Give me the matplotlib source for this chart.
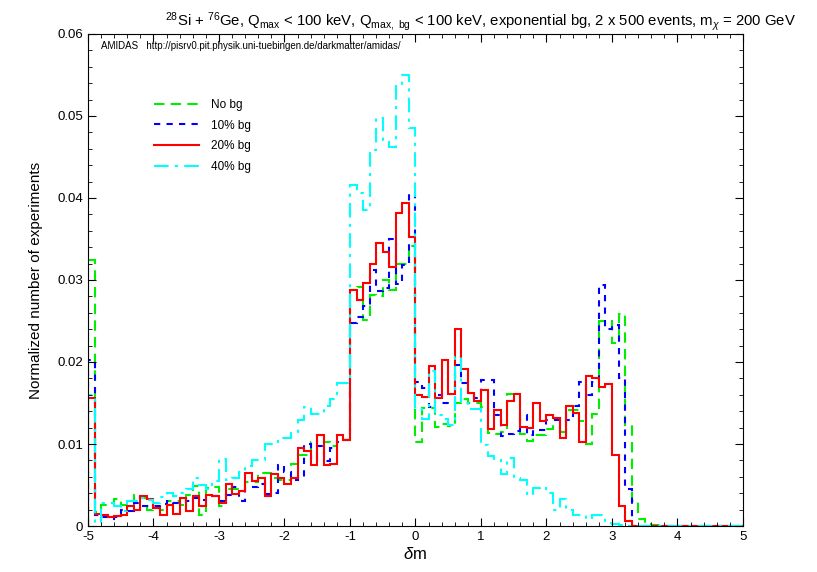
import numpy as np
import matplotlib
matplotlib.use('Agg')
import matplotlib.pyplot as plt

plt.rcParams['font.family'] = ['Liberation Sans', 'DejaVu Sans']
plt.rcParams['mathtext.fontset'] = 'custom'
plt.rcParams['mathtext.rm'] = 'Liberation Sans'
plt.rcParams['mathtext.it'] = 'Liberation Sans:italic'
plt.rcParams['axes.unicode_minus'] = False

# histogram bins: -5 .. 5, width 0.1
bin_lo = -5.0
bin_hi = 5.0

no_bg = [
    0.0324, 0.0017, 0.0026, 0.0028, 0.0033, 0.0026, 0.0026, 0.0038, 0.0034, 0.0020,
    0.0023, 0.0020, 0.0030, 0.0030, 0.0026, 0.0038, 0.0049, 0.0013, 0.0046, 0.0047,
    0.0025, 0.0045, 0.0045, 0.0045, 0.0054, 0.0054, 0.0065, 0.0065, 0.0058, 0.0056,
    0.0056, 0.0076, 0.0086, 0.0086, 0.0103, 0.0111, 0.0103, 0.0098, 0.0103, 0.0105,
    0.0288, 0.0292, 0.0251, 0.0282, 0.0280, 0.0300, 0.0288, 0.0319, 0.0320, 0.0341,
    0.0102, 0.0144, 0.0144, 0.0121, 0.0125, 0.0122, 0.0150, 0.0155, 0.0150, 0.0150,
    0.0145, 0.0113, 0.0112, 0.0115, 0.0161, 0.0161, 0.0112, 0.0104, 0.0111, 0.0111,
    0.0118, 0.0131, 0.0115, 0.0141, 0.0141, 0.0128, 0.0100, 0.0136, 0.0250, 0.0250,
    0.0223, 0.0258, 0.0123, 0.0030, 0.0008, 0.0002, 0.0001, 0.0001, 0.0, 0.0,
    0.0, 0.0, 0.0, 0.0, 0.0, 0.0, 0.0, 0.0, 0.0, 0.0,
]

bg10 = [
    0.0202, 0.0013, 0.0011, 0.0008, 0.0011, 0.0020, 0.0018, 0.0028, 0.0024, 0.0024,
    0.0024, 0.0027, 0.0030, 0.0028, 0.0028, 0.0030, 0.0034, 0.0032, 0.0036, 0.0036,
    0.0030, 0.0038, 0.0047, 0.0030, 0.0047, 0.0047, 0.0051, 0.0039, 0.0040, 0.0074,
    0.0066, 0.0056, 0.0060, 0.0100, 0.0081, 0.0097, 0.0079, 0.0095, 0.0103, 0.0105,
    0.0248, 0.0255, 0.0268, 0.0312, 0.0286, 0.0290, 0.0350, 0.0295, 0.0318, 0.0406,
    0.0176, 0.0168, 0.0145, 0.0160, 0.0150, 0.0150, 0.0196, 0.0175, 0.0162, 0.0156,
    0.0178, 0.0178, 0.0135, 0.0110, 0.0112, 0.0116, 0.0135, 0.0111, 0.0117, 0.0117,
    0.0129, 0.0129, 0.0112, 0.0129, 0.0146, 0.0176, 0.0160, 0.0176, 0.0294, 0.0240,
    0.0245, 0.0180, 0.0045, 0.0, 0.0, 0.0, 0.0, 0.0, 0.0, 0.0,
    0.0, 0.0, 0.0, 0.0, 0.0, 0.0, 0.0, 0.0, 0.0, 0.0,
]

bg20 = [
    0.0156, 0.0015, 0.0013, 0.0011, 0.0012, 0.0014, 0.0025, 0.0020, 0.0036, 0.0033,
    0.0022, 0.0013, 0.0026, 0.0015, 0.0034, 0.0018, 0.0036, 0.0024, 0.0038, 0.0037,
    0.0028, 0.0051, 0.0039, 0.0043, 0.0065, 0.0055, 0.0058, 0.0036, 0.0064, 0.0058,
    0.0051, 0.0058, 0.0095, 0.0091, 0.0075, 0.0111, 0.0074, 0.0076, 0.0111, 0.0105,
    0.0288, 0.0276, 0.0296, 0.0320, 0.0345, 0.0334, 0.0316, 0.0382, 0.0394, 0.0352,
    0.0160, 0.0157, 0.0195, 0.0156, 0.0203, 0.0161, 0.0240, 0.0192, 0.0162, 0.0152,
    0.0166, 0.0118, 0.0141, 0.0123, 0.0152, 0.0161, 0.0121, 0.0120, 0.0150, 0.0128,
    0.0135, 0.0132, 0.0107, 0.0146, 0.0138, 0.0103, 0.0183, 0.0180, 0.0170, 0.0173,
    0.0087, 0.0024, 0.0006, 0.0, 0.0, 0.0, 0.0, 0.0, 0.0, 0.0,
    0.0, 0.0, 0.0, 0.0, 0.0, 0.0, 0.0, 0.0, 0.0, 0.0,
]

bg40 = [
    0.0160, 0.0004, 0.0028, 0.0028, 0.0025, 0.0018, 0.0030, 0.0031, 0.0034, 0.0032,
    0.0028, 0.0035, 0.0040, 0.0036, 0.0040, 0.0045, 0.0058, 0.0050, 0.0045, 0.0055,
    0.0082, 0.0056, 0.0058, 0.0066, 0.0073, 0.0080, 0.0081, 0.0100, 0.0100, 0.0107,
    0.0107, 0.0115, 0.0129, 0.0145, 0.0137, 0.0137, 0.0146, 0.0155, 0.0174, 0.0174,
    0.0416, 0.0406, 0.0385, 0.0459, 0.0497, 0.0471, 0.0462, 0.0537, 0.0550, 0.0485,
    0.0143, 0.0130, 0.0189, 0.0135, 0.0131, 0.0123, 0.0206, 0.0150, 0.0143, 0.0143,
    0.0099, 0.0085, 0.0080, 0.0064, 0.0083, 0.0058, 0.0056, 0.0038, 0.0046, 0.0048,
    0.0040, 0.0020, 0.0033, 0.0020, 0.0013, 0.0013, 0.0009, 0.0013, 0.0013, 0.0004,
    0.0002, 0.0001, 0.0, 0.0, 0.0, 0.0, 0.0, 0.0, 0.0, 0.0,
    0.0, 0.0, 0.0, 0.0, 0.0, 0.0, 0.0, 0.0, 0.0, 0.0,
]

labels = ['No bg', '10% bg', '20% bg', '40% bg']
colors = ['#00ee00', '#0000ff', '#ff0000', '#00ffff']
styles = [(0, (5, 3)), (0, (3, 3)), '-', (0, (7, 3, 1.5, 3))]

edges = np.linspace(bin_lo, bin_hi, len(no_bg) + 1)

fig = plt.figure(figsize=(8.17, 5.72), dpi=100)
ax = fig.add_axes([0.1077, 0.0804, 0.8017, 0.8602])

for vals, lab, c, ls in zip([no_bg, bg10, bg20, bg40], labels, colors, styles):
    ax.stairs(vals, edges, baseline=0, color=c, linestyle=ls, linewidth=1.5, label=lab)

ax.set_xlim(-5, 5)
ax.set_ylim(0, 0.06)
ax.set_xticks(np.arange(-5, 6, 1))
ax.set_yticks([0, 0.01, 0.02, 0.03, 0.04, 0.05, 0.06])
ax.set_yticklabels(['0', '0.01', '0.02', '0.03', '0.04', '0.05', '0.06'])
ax.set_xticks(np.arange(-5, 5.01, 0.2), minor=True)
ax.set_yticks(np.arange(0, 0.0601, 0.002), minor=True)
ax.tick_params(which='both', direction='in', top=True, right=True, labelsize=9.5)
ax.tick_params(which='major', length=6)
ax.tick_params(which='minor', length=3)

ax.set_xlabel(r'$\delta$m', fontsize=12, labelpad=2)
ax.set_ylabel('Normalized number of experiments', fontsize=11, labelpad=10)
ax.set_title(r'$^{28}$Si + $^{76}$Ge, Q$_{\rm max}$ < 100 keV, Q$_{\rm max,\ bg}$ < 100 keV, '
             r'exponential bg, 2 x 500 events, m$_\chi$ = 200 GeV', fontsize=10.7, x=0.6, pad=6)

ax.text(0.02, 0.985, 'AMIDAS   http://pisrv0.pit.physik.uni-tuebingen.de/darkmatter/amidas/',
        transform=ax.transAxes, fontsize=7, va='top', ha='left')

ax.legend(loc='upper left', bbox_to_anchor=(0.085, 0.89), frameon=False, fontsize=8.5,
          handlelength=3.8, labelspacing=0.75, handletextpad=1.0)

fig.savefig('out.png', dpi=100)
